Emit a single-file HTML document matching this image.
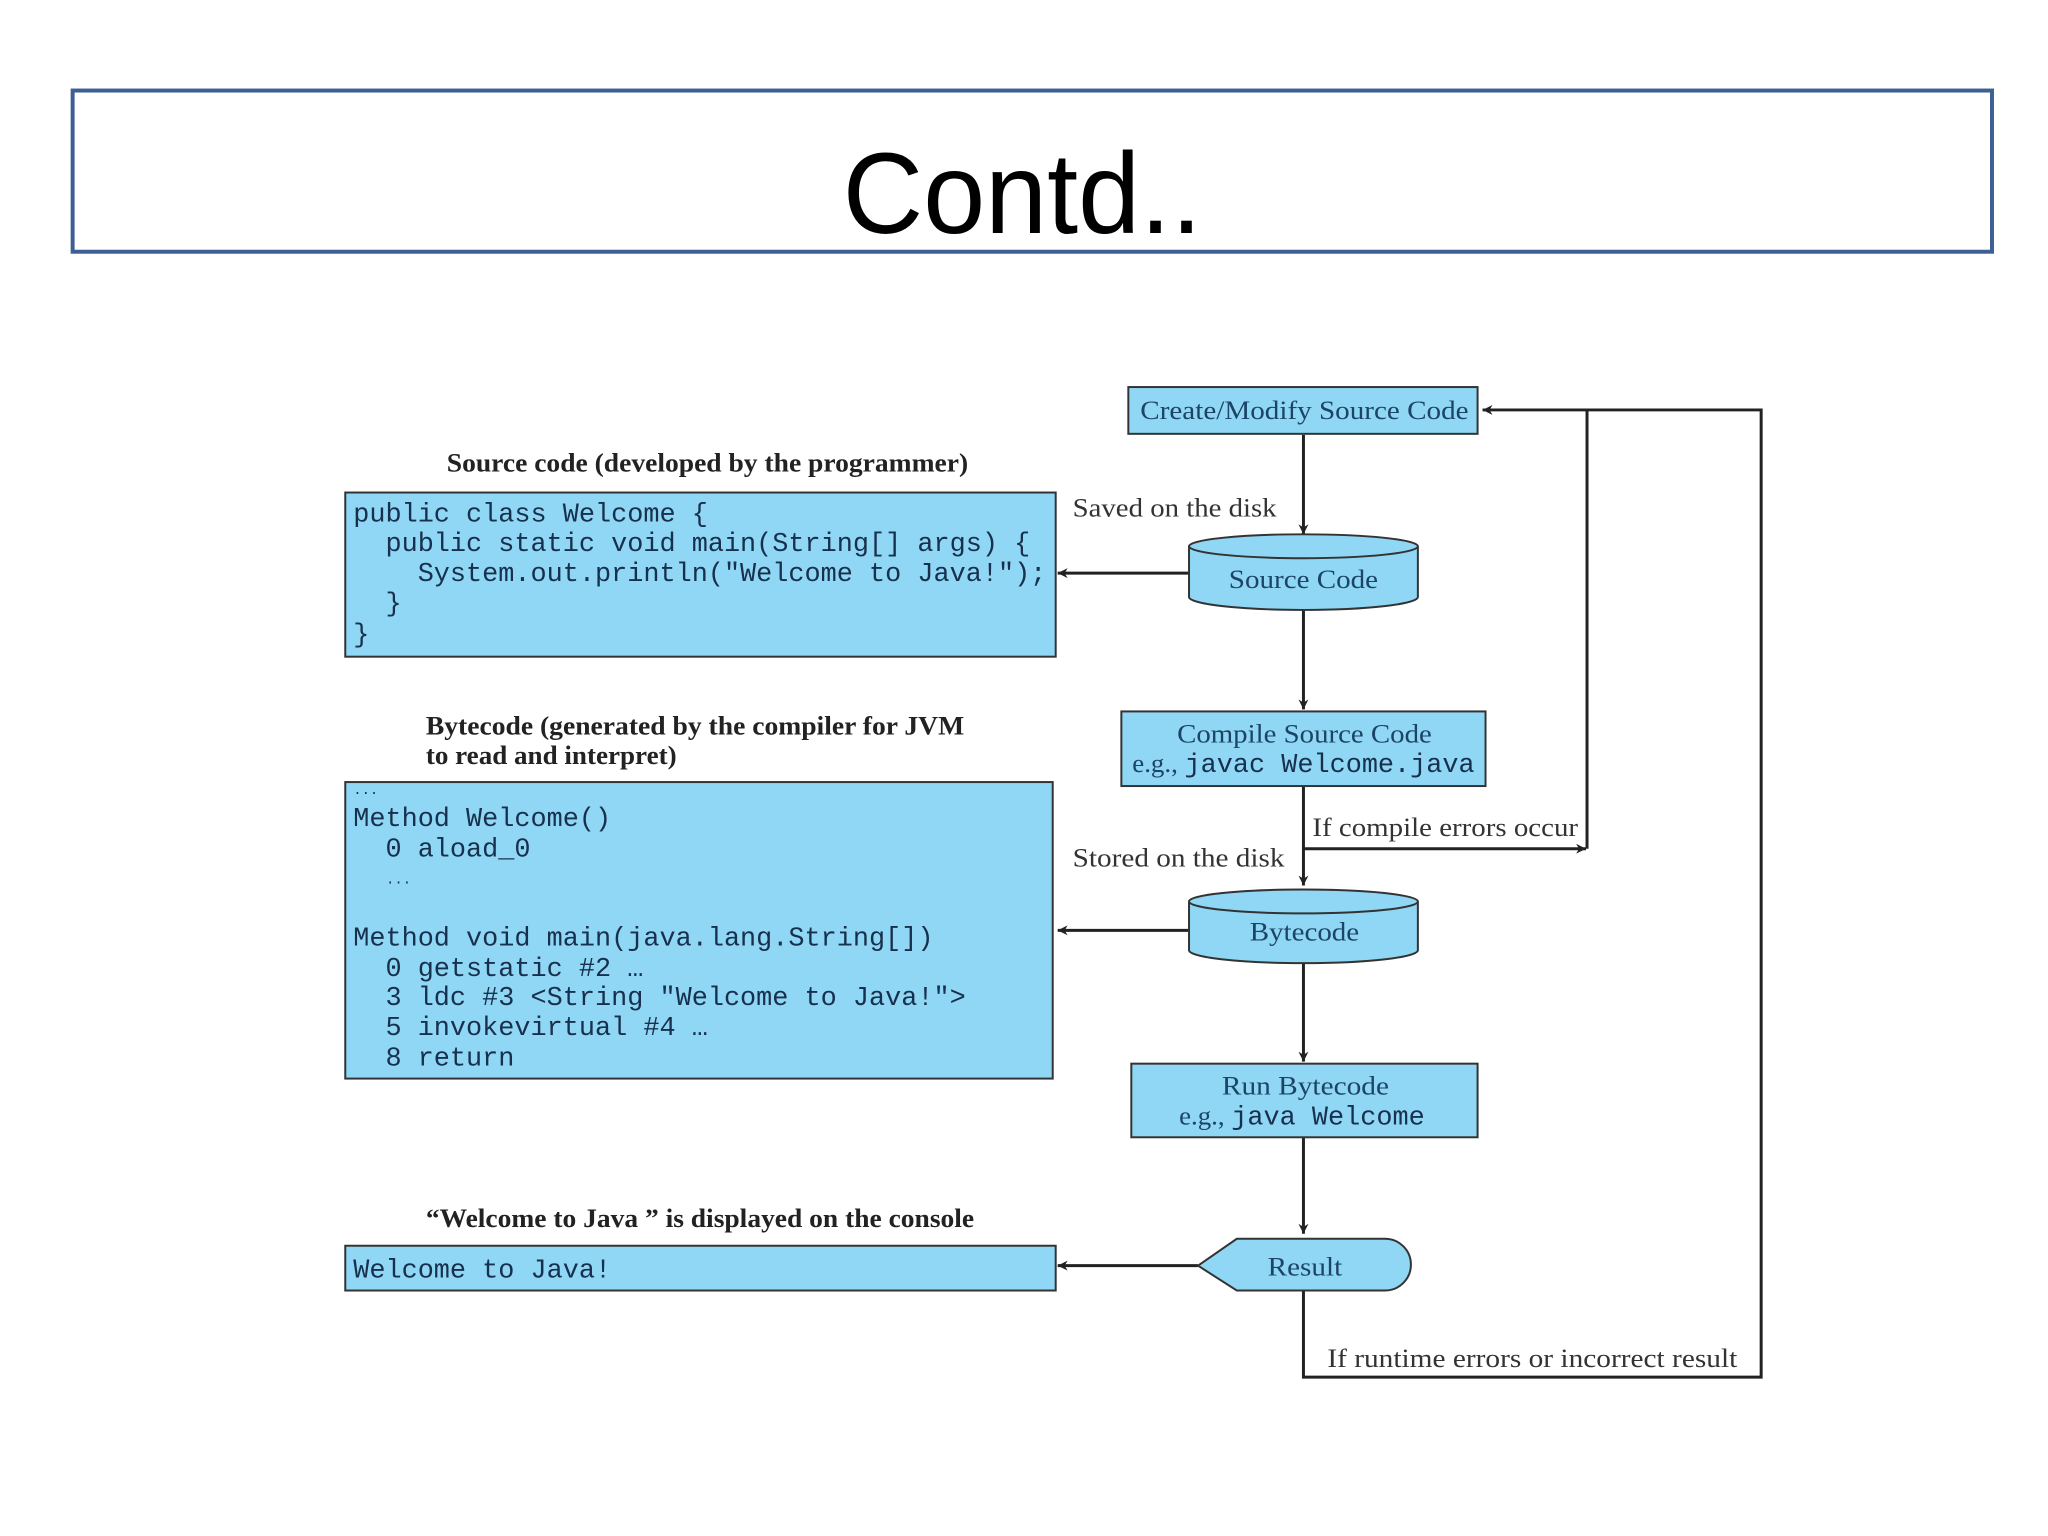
<!DOCTYPE html>
<html><head><meta charset="utf-8"><style>
html,body{margin:0;padding:0;background:#fff;width:2048px;height:1536px;overflow:hidden}
svg{display:block}
.m{font-family:"Liberation Mono",monospace;font-size:27px;fill:#17304d}
.s{font-family:"Liberation Serif",serif;font-size:27px;fill:#333}
.b{font-family:"Liberation Serif",serif;font-size:26px;font-weight:bold;fill:#222}
.n{font-family:"Liberation Serif",serif;font-size:27px;fill:#1c4466}
.nm{font-family:"Liberation Mono",monospace;font-size:27px;fill:#17304d}
</style></head><body>
<svg width="2048" height="1536" viewBox="0 0 2048 1536" xmlns="http://www.w3.org/2000/svg">
<defs>
<marker id="a" viewBox="0 0 10 10" refX="10" refY="5" markerWidth="14" markerHeight="10" markerUnits="userSpaceOnUse" orient="auto"><path d="M0,0 L10,5 L0,10 L3,5 z" fill="#222"/></marker>
</defs>
<g transform="scale(0.995 0.995)">
<rect x="73" y="91" width="1929" height="162" fill="#fff" stroke="#3d5f94" stroke-width="4"/>
<text x="847" y="234" textLength="361" lengthAdjust="spacingAndGlyphs" font-family="Liberation Sans, sans-serif" font-size="116" fill="#000">Contd..</text>

<g stroke="#222" stroke-width="3" fill="none">
<line x1="1310" y1="437" x2="1310" y2="537" marker-end="url(#a)"/>
<line x1="1310" y1="612" x2="1310" y2="713" marker-end="url(#a)"/>
<line x1="1310" y1="790" x2="1310" y2="890" marker-end="url(#a)"/>
<line x1="1310" y1="965" x2="1310" y2="1067" marker-end="url(#a)"/>
<line x1="1310" y1="1143" x2="1310" y2="1240" marker-end="url(#a)"/>
<line x1="1195" y1="576" x2="1063" y2="576" marker-end="url(#a)"/>
<line x1="1195" y1="935" x2="1063" y2="935" marker-end="url(#a)"/>
<line x1="1204" y1="1272" x2="1063" y2="1272" marker-end="url(#a)"/>
<line x1="1310" y1="853" x2="1594" y2="853" marker-end="url(#a)"/>
<polyline points="1595,853 1595,412"/>
<polyline points="1310,1295 1310,1384 1770,1384 1770,412 1490,412" marker-end="url(#a)"/>
</g>

<rect x="1134" y="389" width="351" height="47" fill="#8fd7f4" stroke="#333" stroke-width="2"/>
<text x="1146" y="421" textLength="330" lengthAdjust="spacingAndGlyphs" class="n">Create/Modify Source Code</text>

<text x="1078" y="519" textLength="205" lengthAdjust="spacingAndGlyphs" class="s">Saved on the disk</text>
<g fill="#8fd7f4" stroke="#333" stroke-width="2">
<path d="M1195,549 L1195,600 A115,13 0 0 0 1425,600 L1425,549"/>
<ellipse cx="1310" cy="549" rx="115" ry="12"/>
</g>
<text x="1235" y="591" textLength="150" lengthAdjust="spacingAndGlyphs" class="n">Source Code</text>

<rect x="1127" y="715" width="366" height="75" fill="#8fd7f4" stroke="#333" stroke-width="2"/>
<text x="1183" y="746" textLength="256" lengthAdjust="spacingAndGlyphs" class="n">Compile Source Code</text>
<text x="1138" y="776" class="n">e.g., <tspan class="nm">javac Welcome.java</tspan></text>

<text x="1319" y="840" textLength="267" lengthAdjust="spacingAndGlyphs" class="s">If compile errors occur</text>
<text x="1078" y="871" textLength="213" lengthAdjust="spacingAndGlyphs" class="s">Stored on the disk</text>
<g fill="#8fd7f4" stroke="#333" stroke-width="2">
<path d="M1195,906 L1195,955 A115,13 0 0 0 1425,955 L1425,906"/>
<ellipse cx="1310" cy="906" rx="115" ry="12"/>
</g>
<text x="1256" y="945" textLength="110" lengthAdjust="spacingAndGlyphs" class="n">Bytecode</text>

<rect x="1137" y="1069" width="348" height="74" fill="#8fd7f4" stroke="#333" stroke-width="2"/>
<text x="1228" y="1100" textLength="168" lengthAdjust="spacingAndGlyphs" class="n">Run Bytecode</text>
<text x="1185" y="1130" class="n">e.g., <tspan class="nm">java Welcome</tspan></text>

<path d="M1204,1272 L1243,1245 L1392,1245 A26,26 0 0 1 1392,1297 L1243,1297 Z" fill="#8fd7f4" stroke="#333" stroke-width="2"/>
<text x="1274" y="1282" textLength="75" lengthAdjust="spacingAndGlyphs" class="n">Result</text>
<text x="1334" y="1374" textLength="412" lengthAdjust="spacingAndGlyphs" class="s">If runtime errors or incorrect result</text>

<text x="449" y="474" textLength="524" lengthAdjust="spacingAndGlyphs" class="b">Source code (developed by the programmer)</text>
<rect x="347" y="495" width="714" height="165" fill="#8fd7f4" stroke="#333" stroke-width="2"/>
<text class="m" xml:space="preserve"><tspan x="355" y="524">public class Welcome {</tspan><tspan x="355" y="554">  public static void main(String[] args) {</tspan><tspan x="355" y="584">    System.out.println("Welcome to Java!");</tspan><tspan x="355" y="614">  }</tspan><tspan x="355" y="645">}</tspan></text>

<text x="428" y="738" textLength="541" lengthAdjust="spacingAndGlyphs" class="b">Bytecode (generated by the compiler for JVM</text>
<text x="428" y="768" textLength="252" lengthAdjust="spacingAndGlyphs" class="b">to read and interpret)</text>
<rect x="347" y="786" width="711" height="298" fill="#8fd7f4" stroke="#333" stroke-width="2"/>
<text class="m" xml:space="preserve"><tspan x="355" y="798" font-size="14">...</tspan><tspan x="355" y="830">Method Welcome()</tspan><tspan x="355" y="861">  0 aload_0</tspan><tspan x="388" y="888" font-size="14">...</tspan><tspan x="355" y="950">Method void main(java.lang.String[])</tspan><tspan x="355" y="981">  0 getstatic #2 …</tspan><tspan x="355" y="1010">  3 ldc #3 &lt;String "Welcome to Java!"&gt;</tspan><tspan x="355" y="1040">  5 invokevirtual #4 …</tspan><tspan x="355" y="1071">  8 return</tspan></text>

<text x="428" y="1233" textLength="551" lengthAdjust="spacingAndGlyphs" class="b">“Welcome to Java ” is displayed on the console</text>
<rect x="347" y="1252" width="714" height="45" fill="#8fd7f4" stroke="#333" stroke-width="2"/>
<text x="355" y="1284" class="m">Welcome to Java!</text>
</g>
</svg>
</body></html>
